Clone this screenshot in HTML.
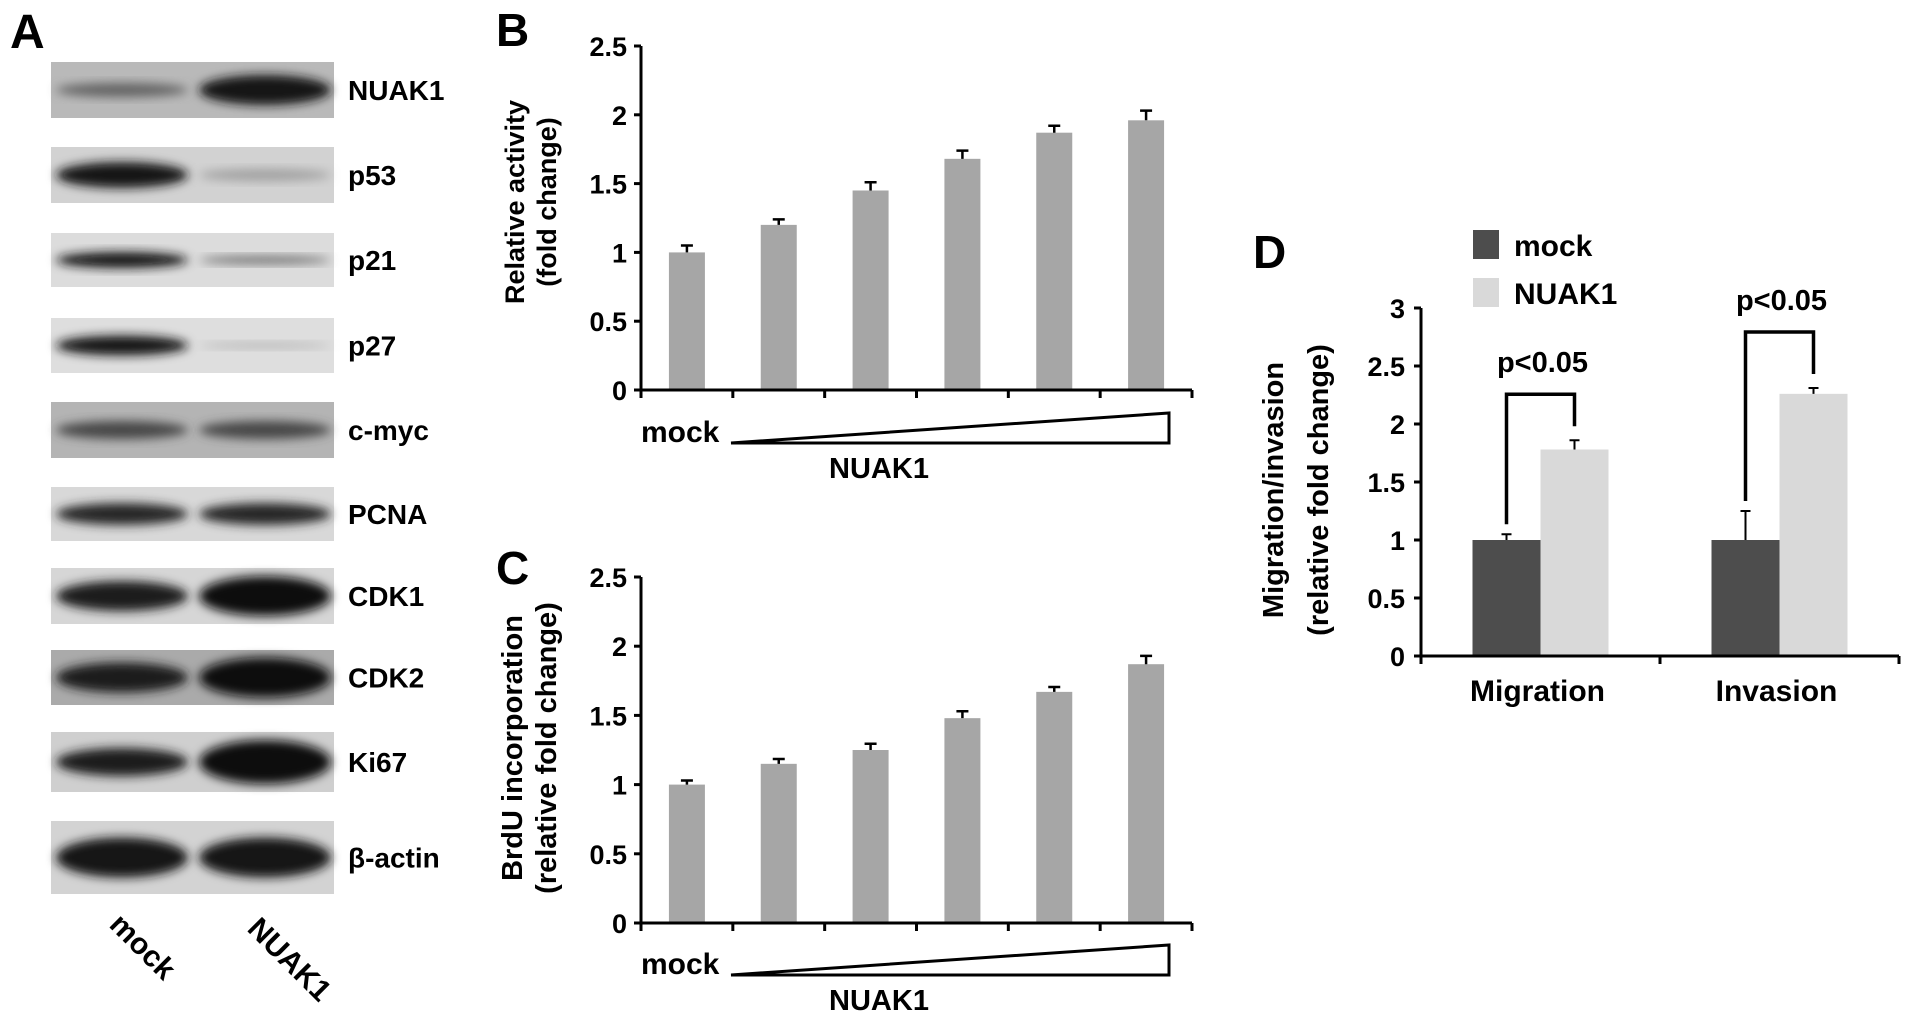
<!DOCTYPE html>
<html><head><meta charset="utf-8"><style>
html,body{margin:0;padding:0;background:#fff}
svg{display:block;font-family:"Liberation Sans",Arial,sans-serif;font-weight:bold}
</style></head><body>
<svg id="fig" width="1913" height="1025" viewBox="0 0 1913 1025" xmlns="http://www.w3.org/2000/svg">
<defs>
<filter id="blur" x="-20%" y="-50%" width="140%" height="200%"><feGaussianBlur stdDeviation="5"/></filter>
</defs>
<g id="panelA"></g>
<g id="panelB"></g>
<g id="panelC"></g>
<g id="panelD"></g>
</svg>
<script>
// ---- data ----
const blotLabels = ["NUAK1","p53","p21","p27","c-myc","PCNA","CDK1","CDK2","Ki67","β-actin"];
const blotMockIntensity = [0.55,0.95,0.95,0.95,0.7,0.85,0.92,0.9,0.9,0.95];
const blotNuakIntensity = [0.95,0.25,0.5,0.15,0.7,0.85,0.97,0.97,0.97,0.95];
const blotMockThickness = [14,26,16,20,18,22,30,30,28,40];
const blotNuakThickness = [30,12,8,6,18,22,40,40,44,40];

const catsB = ["mock","d1","d2","d3","d4","d5"];
const valuesB = [1.0,1.2,1.45,1.68,1.87,1.96];
const errorsB = [0.05,0.04,0.06,0.06,0.05,0.07];
const ticksBC = ["0","0.5","1","1.5","2","2.5"];

const catsC = ["mock","d1","d2","d3","d4","d5"];
const valuesC = [1.0,1.15,1.25,1.48,1.67,1.87];
const errorsC = [0.03,0.035,0.045,0.05,0.035,0.06];

const catsD = ["Migration","Invasion"];
const seriesD = ["mock","NUAK1"];
const mockD = [1.0,1.0];
const nuakD = [1.78,2.26];
const mockErrD = [0.05,0.25];
const nuakErrD = [0.08,0.05];
const ticksD = ["0","0.5","1","1.5","2","2.5","3"];

const NS="http://www.w3.org/2000/svg";
function mk(parent,tag,attrs,text){
  const e=document.createElementNS(NS,tag);
  for(const k in attrs) e.setAttribute(k,attrs[k]);
  if(text!==undefined) e.textContent=text;
  parent.appendChild(e); return e;
}

// ---- Panel A ----
const A=document.getElementById('panelA');
let t=mk(A,'text',{x:10,y:48,'font-size':48},'A');


const stripTop=[62,147,233,318,402,487,568,650,732,821];
const stripH=[56,56,54,55,56,54,56,55,60,73];
const stripBg=["#b9b9b9","#d2d2d2","#dcdcdc","#dedede","#b4b4b4","#d8d8d8","#d6d6d6","#aaaaaa","#cfcfcf","#d3d3d3"];
blotLabels.forEach((lab,i)=>{
  const g=mk(A,'g',{});
  
  
  mk(g,'rect',{x:51,y:stripTop[i],width:283,height:stripH[i],fill:stripBg[i]});
  const cy=stripTop[i]+stripH[i]/2;
  const m=blotMockIntensity[i], n=blotNuakIntensity[i];
  const gm=Math.round(200*(1-m)+10), gn=Math.round(200*(1-n)+10);
  mk(g,'ellipse',{cx:122,cy:cy,rx:66,ry:blotMockThickness[i]/2,fill:`rgb(${gm},${gm},${gm})`,filter:'url(#blur)'});
  mk(g,'ellipse',{cx:265,cy:cy,rx:66,ry:blotNuakThickness[i]/2,fill:`rgb(${gn},${gn},${gn})`,filter:'url(#blur)'});
  const l=mk(A,'text',{x:348,y:cy+10,'font-size':28},lab);
  
  
});
t=mk(A,'text',{x:0,y:0,'font-size':30,transform:'translate(108,926) rotate(45)'},'mock');


t=mk(A,'text',{x:0,y:0,'font-size':30,transform:'translate(246,930) rotate(45)'},'NUAK1');



// ---- bar charts B, C ----
function barChart(root,letter,letterY,yTop,yZero,cats,vals,errs,title1,title2,titleCY,triY,tfs,t1x,t2x){
  const x0=641,x1=1192,vmax=2.5;
  const ys=v=>yZero-(v/vmax)*(yZero-yTop);
  const step=(x1-x0)/cats.length;
  const xs=i=>x0+step*(i+0.5);
  let e=mk(root,'text',{x:496,y:letterY,'font-size':46},letter);
  
  
  vals.forEach((v,i)=>{
    const b=mk(root,'rect',{x:xs(i)-18,y:ys(v),width:36,height:yZero-ys(v),fill:'#a6a6a6'});
    
    
    const eb=mk(root,'path',{d:`M${xs(i)} ${ys(v)} V${ys(v+errs[i])} M${xs(i)-6} ${ys(v+errs[i])} H${xs(i)+6}`,stroke:'#000','stroke-width':2.5,fill:'none'});
    
    
  });
  e=mk(root,'line',{x1:x0,y1:yTop,x2:x0,y2:yZero,stroke:'#000','stroke-width':3});
  
  
  e=mk(root,'line',{x1:x0,y1:yZero,x2:x1,y2:yZero,stroke:'#000','stroke-width':3});
  
  
  ticksBC.forEach(tk=>{
    const y=ys(parseFloat(tk));
    mk(root,'line',{x1:x0-7,y1:y,x2:x0,y2:y,stroke:'#000','stroke-width':3});
    const tl=mk(root,'text',{x:x0-14,y:y+10,'font-size':27,'text-anchor':'end'},tk);
    
    
  });
  for(let i=0;i<=cats.length;i++){
    mk(root,'line',{x1:x0+step*i,y1:yZero,x2:x0+step*i,y2:yZero+8,stroke:'#000','stroke-width':3});
  }
  e=mk(root,'text',{x:0,y:0,'font-size':tfs,'text-anchor':'middle',transform:`translate(${t1x},${titleCY}) rotate(-90)`},title1);
  
  
  e=mk(root,'text',{x:0,y:0,'font-size':tfs,'text-anchor':'middle',transform:`translate(${t2x},${titleCY}) rotate(-90)`},title2);
  
  
  e=mk(root,'polygon',{points:`731,${triY} 1169,${triY-30} 1169,${triY}`,fill:'#fff',stroke:'#000','stroke-width':3});
  
  
  e=mk(root,'text',{x:641,y:triY-1,'font-size':30},'mock');
  
  
  e=mk(root,'text',{x:879,y:triY+35,'font-size':29,'text-anchor':'middle'},'NUAK1');
  
  
}
barChart(document.getElementById('panelB'),'B',46,46,390,catsB,valuesB,errorsB,'Relative activity','(fold change)',202,443,27,524,556);
barChart(document.getElementById('panelC'),'C',584,577,923,catsC,valuesC,errorsC,'BrdU incorporation','(relative fold change)',748,975,29,522,556);

// ---- Panel D ----
(function(){
  const D=document.getElementById('panelD');
  const x0=1421,x1=1899,yTop=308,yZero=656,vmax=3;
  const ys=v=>yZero-(v/vmax)*(yZero-yTop);
  const step=(x1-x0)/catsD.length;
  const xc=i=>x0+step*(i+0.5);
  const bw=68;
  const bracketGap=[46,56];
  let e=mk(D,'text',{x:1253,y:268,'font-size':46},'D');
  
  
  catsD.forEach((c,i)=>{
    [[mockD,mockErrD,'#4d4d4d',-1,'mock'],[nuakD,nuakErrD,'#d9d9d9',0,'nuak1']].forEach(([vals,errs,col,off,nm])=>{
      const v=vals[i], bx=xc(i)+off*bw;
      const b=mk(D,'rect',{x:bx,y:ys(v),width:bw,height:yZero-ys(v),fill:col});
      
      
      const cx=bx+bw/2, ye=ys(v+errs[i]);
      const eb=mk(D,'path',{d:`M${cx} ${ys(v)} V${ye} M${cx-5} ${ye} H${cx+5}`,stroke:'#000','stroke-width':2,fill:'none'});
      
      
    });
    const lx=xc(i)-bw/2, rx=xc(i)+bw/2;
    const top=ys(nuakD[i]+nuakErrD[i])-bracketGap[i];
    const br=mk(D,'path',{d:`M${lx} ${ys(mockD[i]+mockErrD[i])-10} V${top} H${rx} V${ys(nuakD[i]+nuakErrD[i])-14}`,stroke:'#000','stroke-width':3.5,fill:'none'});
    
    
    const pl=mk(D,'text',{x:xc(i)+2,y:top-22,'font-size':29,'text-anchor':'middle'},'p<0.05');
    
    
    const xl=mk(D,'text',{x:xc(i)-3,y:701,'font-size':30,'text-anchor':'middle'},c);
    
    
  });
  e=mk(D,'line',{x1:x0,y1:yTop,x2:x0,y2:yZero,stroke:'#000','stroke-width':3});
  
  
  e=mk(D,'line',{x1:x0,y1:yZero,x2:x1,y2:yZero,stroke:'#000','stroke-width':3});
  
  
  ticksD.forEach(tk=>{
    const y=ys(parseFloat(tk));
    mk(D,'line',{x1:x0-7,y1:y,x2:x0,y2:y,stroke:'#000','stroke-width':3});
    const tl=mk(D,'text',{x:x0-16,y:y+10,'font-size':27,'text-anchor':'end'},tk);
    
    
  });
  for(let i=0;i<=catsD.length;i++) mk(D,'line',{x1:x0+step*i,y1:yZero,x2:x0+step*i,y2:yZero+8,stroke:'#000','stroke-width':3});
  e=mk(D,'text',{x:0,y:0,'font-size':29,'text-anchor':'middle',transform:'translate(1283,490) rotate(-90)'},'Migration/invasion');
  
  
  e=mk(D,'text',{x:0,y:0,'font-size':29,'text-anchor':'middle',transform:'translate(1328,490) rotate(-90)'},'(relative fold change)');
  
  
  const legCols=['#4d4d4d','#d9d9d9'], legY=[230,278];
  seriesD.forEach((s,i)=>{
    const g=mk(D,'g',{});
    
    
    mk(g,'rect',{x:1473,y:legY[i],width:26,height:29,fill:legCols[i]});
    mk(g,'text',{x:1514,y:legY[i]+26,'font-size':30},s);
  });
})();
</script>
</body></html>
